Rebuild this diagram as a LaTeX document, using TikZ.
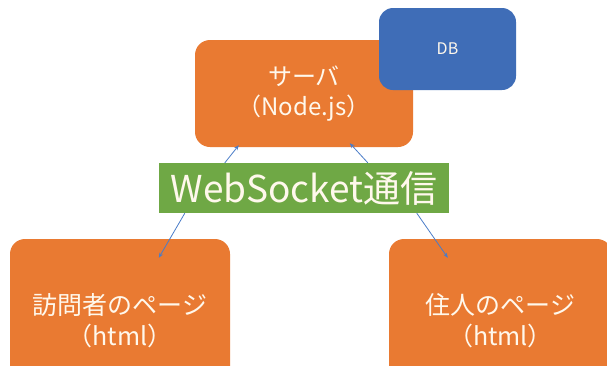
\documentclass[tikz,border=0pt]{standalone}
\usepackage{fontspec}
\setmainfont{Noto Sans CJK JP}
\usetikzlibrary{arrows.meta}
\definecolor{orangeA}{HTML}{E97A32}
\definecolor{blueA}{HTML}{3F6DB7}
\definecolor{greenA}{HTML}{6FA845}
\definecolor{arrowA}{HTML}{4A7CC8}
\definecolor{txtA}{HTML}{FFF8EC}
\tikzset{
  obox/.style={fill=orangeA, rounded corners=15pt, text=txtA, align=center, inner sep=0pt, font=\fontsize{24}{30}\selectfont},
  bbox/.style={obox, font=\fontsize{25}{31}\selectfont},
  dbbox/.style={fill=blueA, rounded corners=14pt, text=txtA, inner sep=0pt, font=\fontsize{16}{18}\selectfont},
  wsbox/.style={fill=greenA, text=txtA, inner sep=0pt, font=\fontsize{37}{40}\selectfont},
  arr/.style={draw=arrowA, line width=0.8pt, -{Stealth[length=5pt,width=4pt]}}
}
\begin{document}
\begin{tikzpicture}[x=1pt,y=-1pt]
\useasboundingbox (0,0) rectangle (607,365);
\node[obox, minimum width=218pt, minimum height=107pt] (srv) at (304,93.5) {サーバ\\（Node.js）};
\node[dbbox, minimum width=137pt, minimum height=82pt] (db) at (447.5,49) {DB};
\node[wsbox, minimum width=290pt, minimum height=50pt] (ws) at (304,188) {WebSocket通信};
\node[bbox, minimum width=220pt, minimum height=164pt] (vis) at (120,321) {訪問者のページ\\（html）};
\node[bbox, minimum width=223pt, minimum height=164pt] (res) at (500.5,321) {住人のページ\\（html）};
\draw[arr] ([xshift=66pt]ws.north west) -- ([xshift=44pt,yshift=2pt]srv.south west);
\draw[arr] ([xshift=209pt]ws.north west) -- ([xshift=155pt,yshift=4pt]srv.south west);
\draw[arr] ([xshift=26pt]ws.south west) -- ([xshift=149pt,yshift=-19pt]vis.north west);
\draw[arr] ([xshift=258pt]ws.south west) -- ([xshift=59pt,yshift=-19pt]res.north west);
\end{tikzpicture}
\end{document}
